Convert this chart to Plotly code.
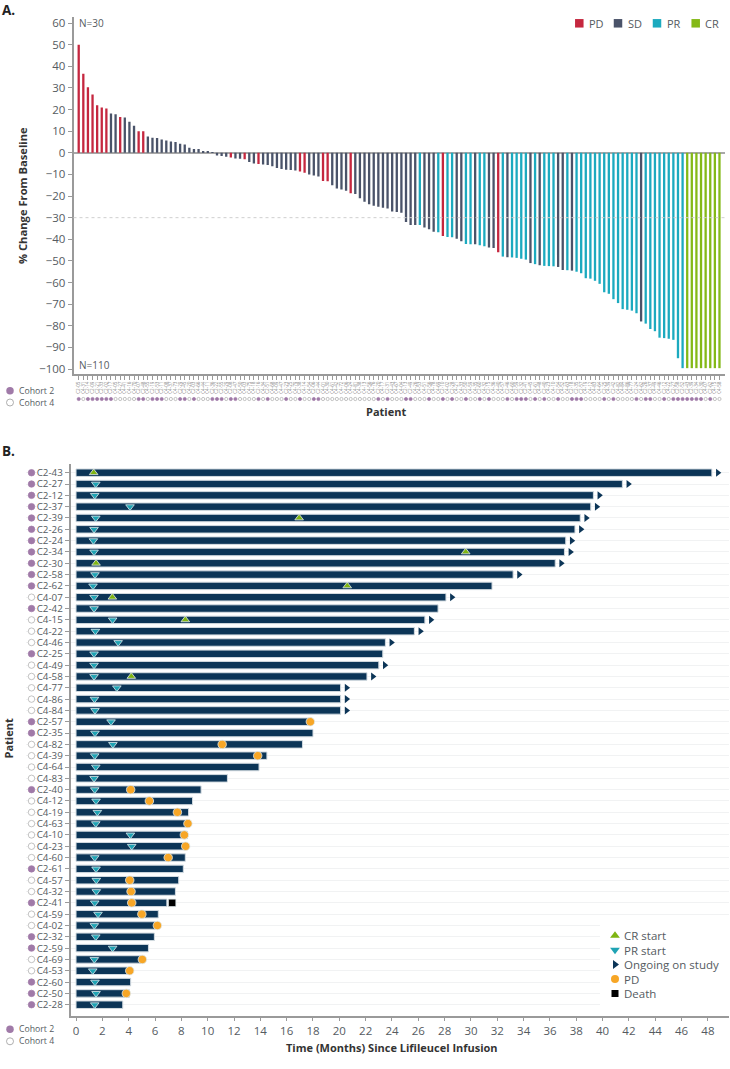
import plotly.graph_objects as go

# ---------- Panel A data ----------
a_patients = """C2-05 C4-31 C2-14 C2-09 C2-21 C2-33 C2-02 C2-17 C4-05 C4-27 C4-41 C4-16 C4-70 C2-07 C2-48 C4-55 C2-19 C2-53 C2-11 C4-08
C4-37 C4-73 C2-29 C2-45 C4-20 C2-03 C4-66 C4-44 C4-11 C2-36 C2-22 C2-55 C4-29 C2-08 C2-47 C4-50 C4-03 C4-75 C4-18 C2-16
C4-34 C2-51 C4-68 C4-09 C4-47 C2-23 C4-25 C4-79 C2-38 C4-14 C4-54 C2-06 C2-44 C4-01 C4-30 C4-61 C4-42 C4-72 C4-06 C4-24
C4-81 C4-38 C4-13 C4-56 C4-76 C2-20 C4-17 C2-31 C4-43 C4-67 C4-04 C2-13 C2-49 C4-26 C4-53 C4-51 C2-56 C4-78 C4-69 C2-10
C4-02 C2-28 C4-21 C4-33 C2-50 C4-59 C4-35 C2-60 C4-32 C2-15 C4-36 C4-40 C4-57 C2-46 C4-60 C2-59 C2-32 C2-41 C4-45 C2-61
C4-48 C2-40 C4-23 C4-10 C2-54 C4-52 C4-63 C2-18 C2-35 C2-57 C4-19 C4-12 C4-83 C4-64 C2-25 C4-39 C2-42 C4-82 C4-84 C4-86
C4-77 C2-24 C4-62 C2-26 C2-37 C4-49 C4-46 C2-12 C4-22 C2-27 C2-58 C2-52 C2-43 C2-39 C2-34 C2-30 C4-07 C2-62 C4-15 C4-58""".split()
a_change = [50,36.5,30.3,27,22,21,20.5,18.2,17.8,16.5,16.3,14.4,12.5,10,10,7.5,7,6.8,6.2,5.7,
    5.2,5,4.2,3.8,2.3,1.8,1.8,0.8,0.4,0.3,-1.2,-1.5,-1.8,-2.2,-2.6,-2.8,-3,-4.2,-5,-5.2,
    -5.4,-5.6,-6.2,-7,-7.5,-7.8,-8,-8.2,-8.6,-9.2,-10,-10.5,-11,-13,-13.2,-15,-16.5,-17,-17.5,-18.7,
    -19,-21,-22.6,-23.8,-24.5,-25,-25.4,-25.8,-27.2,-27.4,-27.7,-32,-33.4,-33.4,-33.4,-34.5,-35.4,-36.5,-36.8,-38.5,
    -38.9,-39.1,-39.8,-40.9,-42.2,-42.3,-42.3,-42.8,-43.2,-43.8,-44,-46,-48,-48.3,-48.4,-48.6,-49,-49.4,-51,-51.5,
    -52,-52.3,-52.4,-52.5,-52.8,-54.2,-54.3,-54.5,-55,-55.7,-58,-58.2,-59.2,-60.6,-64.5,-65.2,-67.7,-69.5,-72.3,-72.6,
    -73,-74.2,-78,-79,-81.5,-82.5,-85.5,-85.7,-86,-86.5,-95,-99.6,-99.6,-99.6,-99.6,-99.6,-99.6,-99.6,-99.6,-99.6]
a_status = """PD PD PD PD PD PD PD SD SD PD SD SD SD PD PD SD SD SD SD SD
SD SD SD SD SD SD SD SD SD SD SD SD SD PD SD SD PD SD SD PD
SD SD SD SD SD SD SD SD PD PD SD SD SD PD PD SD SD SD SD PD
SD SD SD SD SD SD SD SD SD SD SD SD SD SD PR SD SD SD PR PD
PR PR SD SD PR PR SD PR PR SD SD PD PR SD PR PR PR PR SD PR
SD PR PR PR SD SD PR SD PR PR PR PR PR PR PR PR PR PR PR PR
PR PR SD PR PR PR PR PR PR PR PR PR CR CR CR CR CR CR CR CR""".split()
a_yticks = list(range(-100, 61, 10))
threshold = -30

# ---------- Panel B data ----------
b_patients = ["C2-43","C2-27","C2-12","C2-37","C2-39","C2-26","C2-24","C2-34","C2-30","C2-58","C2-62","C4-07",
    "C2-42","C4-15","C4-22","C4-46","C2-25","C4-49","C4-58","C4-77","C4-86","C4-84","C2-57","C2-35",
    "C4-82","C4-39","C4-64","C4-83","C2-40","C4-12","C4-19","C4-63","C4-10","C4-23","C4-60","C2-61",
    "C4-57","C4-32","C2-41","C4-59","C4-02","C2-32","C2-59","C4-69","C4-53","C2-60","C2-50","C2-28"]
b_months = [48.3,41.5,39.3,39.1,38.3,37.9,37.2,37.1,36.4,33.2,31.6,28.1,
    27.5,26.5,25.7,23.5,23.3,23.0,22.1,20.1,20.1,20.1,17.9,18.0,
    17.2,14.5,13.9,11.5,9.5,8.85,8.55,8.45,8.45,8.3,8.3,8.15,
    7.8,7.55,6.9,6.25,6.0,5.95,5.5,5.0,3.9,4.15,4.05,3.55]
b_pr = {"C2-27":1.5,"C2-12":1.42,"C2-37":4.1,"C2-39":1.5,"C2-26":1.37,"C2-24":1.32,"C2-34":1.37,"C2-58":1.44,
    "C2-62":1.29,"C4-07":1.37,"C2-42":1.37,"C4-15":2.78,"C4-22":1.47,"C4-46":3.2,"C2-25":1.37,"C4-49":1.37,
    "C4-58":1.37,"C4-77":3.1,"C4-86":1.4,"C4-84":1.44,"C2-57":2.66,"C2-35":1.44,"C4-82":2.8,"C4-39":1.42,
    "C4-64":1.5,"C4-83":1.37,"C2-40":1.42,"C4-12":1.52,"C4-19":1.62,"C4-63":1.5,"C4-10":4.13,"C4-23":4.23,
    "C4-60":1.42,"C2-61":1.52,"C4-57":1.54,"C4-32":1.54,"C2-41":1.42,"C4-59":1.67,"C4-02":1.39,"C2-32":1.5,
    "C2-59":2.78,"C4-69":1.39,"C4-53":1.27,"C2-60":1.44,"C2-50":1.52,"C2-28":1.42}
b_cr = {"C2-43":1.34,"C2-39":16.95,"C2-34":29.6,"C2-30":1.52,"C2-62":20.6,"C4-07":2.76,"C4-15":8.3,"C4-58":4.2}
b_pd = {"C2-57":17.8,"C4-82":11.1,"C4-39":13.8,"C2-40":4.15,"C4-12":5.57,"C4-19":7.7,"C4-63":8.5,"C4-10":8.23,
    "C4-23":8.33,"C4-60":7.0,"C4-57":4.08,"C4-32":4.18,"C2-41":4.23,"C4-59":5.0,"C4-02":6.18,"C4-69":5.04,
    "C4-53":4.08,"C2-50":3.82}
b_death = {"C2-41":7.3}
b_ongoing = {"C2-43":48.75,"C2-27":41.95,"C2-12":39.75,"C2-37":39.55,"C2-39":38.75,"C2-26":38.35,"C2-24":37.65,
    "C2-34":37.55,"C2-30":36.85,"C2-58":33.65,"C4-07":28.55,"C4-15":26.95,"C4-22":26.15,"C4-46":23.95,
    "C4-49":23.45,"C4-58":22.55,"C4-77":20.55,"C4-86":20.55,"C4-84":20.55}
b_xticks = list(range(0, 49, 2))

# ---------- Styles ----------
W, H = 730, 1069
FONT = "Open Sans"
TXT = "#555b61"
DARK = "#333333"
AX = "#9a9a9a"
STATUS_COL = {"PD": "#c5273f", "SD": "#4a5369", "PR": "#1caabf", "CR": "#84b917"}
NAVY = "#0c3557"
PURPLE = "#a07aa8"
PR_C, CR_C, PD_C = "#1fa3b4", "#7fb512", "#f7a626"


def fx(px): return px / W
def fy(px): return 1 - px / H


fig = go.Figure()

# Panel A bars
fig.add_trace(go.Bar(x=a_patients, y=a_change, xaxis="x", yaxis="y", width=0.5,
                     marker=dict(color=[STATUS_COL[s] for s in a_status], line_width=0),
                     showlegend=False))


def cohort_style(ids, size):
    return dict(size=size,
                color=[PURPLE if p.startswith("C2") else "white" for p in ids],
                line=dict(color=[PURPLE if p.startswith("C2") else "#a9a9a9" for p in ids], width=0.7))


fig.add_trace(go.Scatter(x=a_patients, y=[0] * len(a_patients), xaxis="x", yaxis="y3", mode="markers",
                         marker=cohort_style(a_patients, 3.2), showlegend=False))

# Panel B bars
fig.add_trace(go.Bar(y=b_patients, x=b_months, orientation="h", xaxis="x2", yaxis="y2", width=0.66,
                     marker=dict(color=NAVY, line=dict(color="#d3dbe1", width=1)), showlegend=False))


def events(d, name, symbol, color, size, line="#dfeaee", lw=0.8):
    fig.add_trace(go.Scatter(x=list(d.values()), y=list(d.keys()), xaxis="x2", yaxis="y2", mode="markers",
                             name=name, cliponaxis=False, showlegend=False,
                             marker=dict(symbol=symbol, color=color, size=size, line=dict(color=line, width=lw))))


events(b_ongoing, "Ongoing on study", "triangle-right", NAVY, 7, line=NAVY, lw=0)
events(b_pr, "PR start", "triangle-down", PR_C, 7.5)
events(b_cr, "CR start", "triangle-up", CR_C, 7.5)
events(b_pd, "PD", "circle", PD_C, 8.5)
events(b_death, "Death", "square", "#000000", 7.5)

fig.add_trace(go.Scatter(x=[0] * len(b_patients), y=b_patients, xaxis="x3", yaxis="y2", mode="markers",
                         marker=cohort_style(b_patients, 6.5), showlegend=False))

# Hand-placed legends on a pixel-sized overlay axis (tighter spacing than plotly's legend allows)
def key(px, py, label, symbol, color, size, lcol=None, lw=0, fs=11.5, dx=6):
    fig.add_trace(go.Scatter(x=[px], y=[py], xaxis="x4", yaxis="y4", mode="markers", showlegend=False,
                             marker=dict(symbol=symbol, color=color, size=size,
                                         line=dict(color=lcol or color, width=lw))))
    fig.add_annotation(x=px + dx, y=py, xref="x4", yref="y4", text=label, showarrow=False, xanchor="left",
                       yanchor="middle", font=dict(family=FONT, size=fs, color=TXT))


for lbl, px in zip(["PD", "SD", "PR", "CR"], [579.3, 618, 657, 695.7]):
    key(px, 23.3, lbl, "square", STATUS_COL[lbl], 8.5, fs=11, dx=7.5)
key(10, 390.7, "Cohort 2", "circle", PURPLE, 7.5, fs=8.7, dx=6.5)
key(10, 402.5, "Cohort 4", "circle", "white", 7, lcol="#9a9a9a", lw=0.8, fs=8.7, dx=6.5)
key(10, 1029.3, "Cohort 2", "circle", PURPLE, 7.5, fs=8.7, dx=6.5)
key(10, 1041.3, "Cohort 4", "circle", "white", 7, lcol="#9a9a9a", lw=0.8, fs=8.7, dx=6.5)
for py, lbl, sym, col, sz in [(935.5, "CR start", "triangle-up", CR_C, 8.5),
                              (950, "PR start", "triangle-down", PR_C, 8.5),
                              (964.5, "Ongoing on study", "triangle-right", NAVY, 8),
                              (979, "PD", "circle", PD_C, 8),
                              (993.5, "Death", "square", "#000000", 7)]:
    key(615, py, lbl, sym, col, sz, fs=11.5, dx=7)


def note(px, py, text, size=10.5, bold=False, color=TXT, xanchor="left", angle=0):
    fig.add_annotation(x=px, y=py, xref="x4", yref="y4", text=f"<b>{text}</b>" if bold else text, showarrow=False,
                       xanchor=xanchor, yanchor="middle", textangle=angle,
                       font=dict(family=FONT, size=size, color=color))


note(0, 9.5, "A.", 13.5, True, "#222222")
note(0, 451, "B.", 13.5, True, "#222222")
note(77, 23, "N=30", 10)
note(77, 365, "N=110", 10)
note(22, 196, "% Change From Baseline", 11.2, True, DARK, "center", -90)
note(386, 411.7, "Patient", 11, True, DARK, "center")
note(8, 738.5, "Patient", 11, True, DARK, "center", -90)
note(392, 1047, "Time (Months) Since Lifileucel Infusion", 11, True, DARK, "center")

axis_font = dict(family=FONT, size=11.5, color=TXT)

fig.update_layout(
    width=W, height=H, margin=dict(l=0, r=0, t=0, b=0, autoexpand=False), paper_bgcolor="white",
    plot_bgcolor="rgba(0,0,0,0)", showlegend=False, font=dict(family=FONT, color=TXT), bargap=0.5,
    xaxis=dict(domain=[fx(73.5), fx(725)], anchor="y", type="category", categoryorder="array",
               categoryarray=a_patients, range=[-1.13, 140.2], tickmode="array", tickvals=a_patients,
               ticktext=a_patients, tickangle=-90, tickfont=dict(family=FONT, size=4.6, color="#8a8a8a"),
               ticks="outside", ticklen=4, tickcolor=AX, tickwidth=0.7, showline=True, linecolor=AX, linewidth=1.5,
               showgrid=False, zeroline=False),
    yaxis=dict(domain=[fy(374), fy(17)], anchor="x", range=[-102.3, 62.8], tickvals=a_yticks, tickfont=axis_font,
               ticks="outside", ticklen=4, tickcolor=AX, showline=True, linecolor=AX, linewidth=1.5,
               showgrid=False, zeroline=True, zerolinecolor="#a8a8a8", zerolinewidth=1.5),
    yaxis3=dict(domain=[fy(402), fy(396)], anchor="x", range=[-1, 1], visible=False),
    xaxis2=dict(domain=[fx(70.5), fx(729)], anchor="y2", range=[-0.42, 49.6], tickvals=b_xticks, tickfont=axis_font,
                ticks="outside", ticklen=4, tickcolor=AX, showline=True, linecolor=AX, linewidth=1.5,
                showgrid=False, zeroline=False),
    yaxis2=dict(domain=[fy(1015.7), fy(464)], anchor="x2", type="category", categoryorder="array",
                categoryarray=b_patients, range=[47.97, -0.77], tickmode="array", tickvals=b_patients,
                tickfont=dict(family=FONT, size=9.8, color=TXT), ticks="outside", ticklen=4, tickcolor=AX,
                showline=True, linecolor=AX, linewidth=1.5, showgrid=True, gridcolor="#f1f2f3", gridwidth=1,
                zeroline=False),
    xaxis3=dict(domain=[fx(26), fx(37)], anchor="y2", range=[-1, 1], visible=False),
    xaxis4=dict(domain=[0, 1], anchor="y4", range=[0, W], visible=False, fixedrange=True),
    yaxis4=dict(domain=[0, 1], anchor="x4", range=[H, 0], visible=False, fixedrange=True),
    shapes=[
        dict(type="line", xref="x domain", yref="y", x0=0, x1=1, y0=threshold, y1=threshold,
             line=dict(color="#cfcfcf", width=1, dash="3px,3px"), layer="above"),
        dict(type="rect", xref="x4", yref="y4", x0=600, x1=730, y0=925, y1=1012, fillcolor="white",
             line_width=0, layer="below"),
    ],
)

fig.write_html("out.html", post_script="document.body.style.margin='0';", config={"displayModeBar": False})
